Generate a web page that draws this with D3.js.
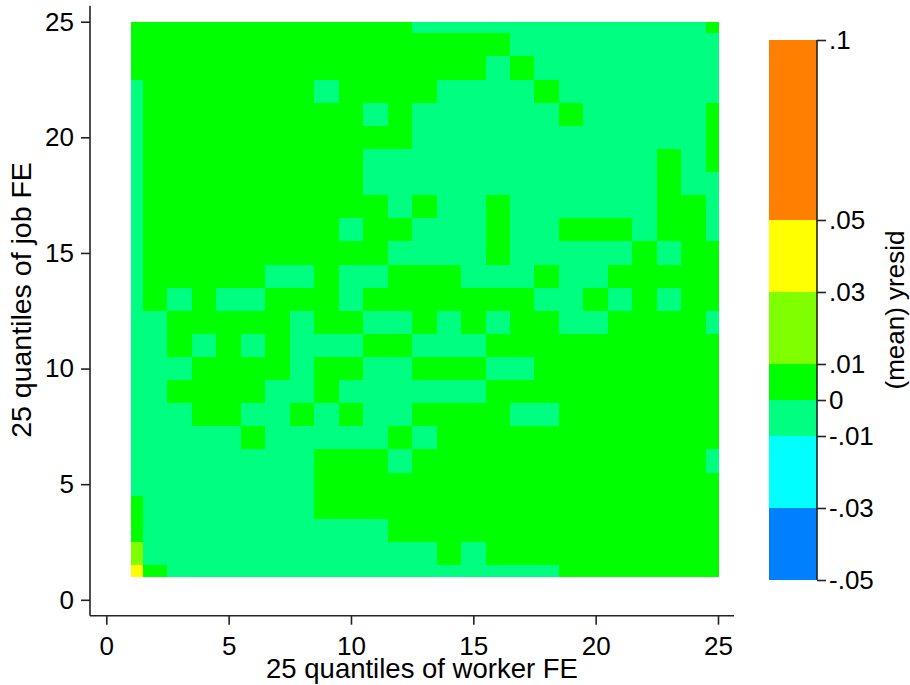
<!DOCTYPE html>
<html><head><meta charset="utf-8">
<script src="https://cdn.jsdelivr.net/npm/d3@7"></script>
<style>
body{margin:0;background:#fff}
text{font-family:"Liberation Sans",Arial,Helvetica,sans-serif;fill:#000}
</style>
</head><body>
<svg id="chart" width="910" height="685"></svg>
<script>
// ---- data ----
const xTicks = [0, 5, 10, 15, 20, 25];
const yTicks = [0, 5, 10, 15, 20, 25];
const xTitle = "25 quantiles of worker FE";
const yTitle = "25 quantiles of job FE";
const legendTitle = "(mean) yresid";
const legendBreaks = [-0.05, -0.03, -0.01, 0, 0.01, 0.03, 0.05, 0.1];
const legendLabels = ["-.05", "-.03", "-.01", "0", ".01", ".03", ".05", ".1"];
const legendColors = ["#0080FF", "#00FFFF", "#00FF80", "#00FF00", "#80FF00", "#FFFF00", "#FF8000"];
// estimated mean residual per colour class
const classValues = {M: -0.005, G: 0.005, C: 0.02, Y: 0.04};
// job-FE quantile rows 25 (top) .. 1 (bottom); run-length coded over worker-FE quantiles 1..25
const gridRows = [
  "12G 12M 1G",
  "16G 9M",
  "15G 1M 1G 8M",
  "1M 7G 1M 4G 4M 1G 7M",
  "1M 9G 1M 1G 6M 1G 5M 1G",
  "1M 11G 12M 1G",
  "1M 9G 12M 1G 1M 1G",
  "1M 9G 12M 1G 2M",
  "1M 10G 1M 1G 2M 1G 6M 2G 1M",
  "1M 8G 1M 2G 3M 1G 2M 3G 1M 2G 1M",
  "1M 10G 4M 1G 5M 1G 1M 2G",
  "1M 5G 2M 1G 2M 3G 3M 1G 2M 5G",
  "1M 1G 1M 1G 2M 3G 1M 7G 2M 1G 1M 1G 1M 2G",
  "2M 5G 1M 2G 2M 1G 1M 1G 1M 2G 2M 4G 1M",
  "2M 1G 1M 1G 1M 1G 3M 2G 3M 10G",
  "3M 4G 1M 2G 2M 3G 2M 8G",
  "2M 4G 2M 1G 6M 10G",
  "3M 2G 2M 1G 1M 1G 2M 4G 2M 7G",
  "5M 1G 5M 1G 1M 12G",
  "8M 3G 1M 12G 1M",
  "8M 17G",
  "1G 7M 17G",
  "1G 10M 14G",
  "1C 12M 1G 1M 10G",
  "1Y 1G 16M 7G"
];

// ---- build cells ----
const cells = [];
gridRows.forEach((row, i) => {
  const r = 25 - i;
  let c = 1;
  row.split(" ").forEach(tok => {
    const n = +tok.slice(0, -1), k = tok.slice(-1);
    for (let j = 0; j < n; j++) { cells.push({col: c, row: r, value: classValues[k]}); c++; }
  });
});

const svg = d3.select("#chart");
const x = d3.scaleLinear().domain([0, 25]).range([106.3, 718]);
const y = d3.scaleLinear().domain([0, 25]).range([599.8, 21.7]);
const color = d3.scaleThreshold().domain(legendBreaks.slice(1, -1)).range(legendColors);
const clip = v => Math.max(1, Math.min(25, v));

svg.append("g").attr("shape-rendering", "crispEdges")
  .selectAll("rect").data(cells).join("rect")
  .attr("x", d => x(clip(d.col - 0.5)))
  .attr("width", d => x(clip(d.col + 0.5)) - x(clip(d.col - 0.5)) + 0.5)
  .attr("y", d => y(clip(d.row + 0.5)))
  .attr("height", d => y(clip(d.row - 0.5)) - y(clip(d.row + 0.5)) + 0.5)
  .attr("fill", d => color(d.value));

const axisColor = "#222";
const fs = 26;

// x axis
const gx = svg.append("g").attr("transform", "translate(0,615.7)")
  .call(d3.axisBottom(x).tickValues(xTicks).tickSize(9).tickPadding(12).tickFormat(d3.format("d")));
gx.select(".domain").remove();
gx.append("line").attr("x1", x.range()[0] - 16.3).attr("x2", x.range()[1] + 16).attr("stroke", axisColor).attr("stroke-width", 1.6);
gx.selectAll(".tick line").attr("stroke", axisColor).attr("stroke-width", 1.6);
gx.selectAll(".tick text").attr("font-size", fs).attr("font-family", null).style("fill", "#000");

// y axis
const gy = svg.append("g").attr("transform", "translate(90,0)")
  .call(d3.axisLeft(y).tickValues(yTicks).tickSize(9).tickPadding(7).tickFormat(d3.format("d")));
gy.select(".domain").remove();
gy.append("line").attr("y1", y.range()[1] - 15.9).attr("y2", y.range()[0] + 15.9).attr("stroke", axisColor).attr("stroke-width", 1.6);
gy.selectAll(".tick line").attr("stroke", axisColor).attr("stroke-width", 1.6);
gy.selectAll(".tick text").attr("font-size", fs).attr("font-family", null).style("fill", "#000");

// titles
svg.append("text").attr("x", 422).attr("y", 678).attr("text-anchor", "middle").attr("font-size", 27.5).text(xTitle);
svg.append("text").attr("transform", "translate(31,300) rotate(-90)").attr("text-anchor", "middle").attr("font-size", 28.5).text(yTitle);

// legend
const ly = d3.scaleLinear().domain([-0.05, 0.1]).range([580, 40]);
const lx0 = 769, lx1 = 817;
const segs = legendColors.map((c, i) => ({lo: legendBreaks[i], hi: legendBreaks[i + 1], c}));
svg.append("g").attr("shape-rendering", "crispEdges").selectAll("rect").data(segs).join("rect")
  .attr("x", lx0).attr("width", lx1 - lx0)
  .attr("y", d => ly(d.hi)).attr("height", d => ly(d.lo) - ly(d.hi))
  .attr("fill", d => d.c);
const gl = svg.append("g").attr("transform", `translate(${lx1},0)`)
  .call(d3.axisRight(ly).tickValues(legendBreaks).tickSize(9).tickPadding(3).tickFormat((d, i) => legendLabels[i]));
gl.select(".domain").remove();
gl.append("line").attr("y1", ly(0.1)).attr("y2", ly(-0.05)).attr("stroke", axisColor).attr("stroke-width", 1.6);
gl.selectAll(".tick line").attr("stroke", axisColor).attr("stroke-width", 1.6);
gl.selectAll(".tick text").attr("font-size", fs).attr("font-family", null).style("fill", "#000");
svg.append("text").attr("transform", "translate(904,310) rotate(-90)").attr("text-anchor", "middle").attr("font-size", 26).text(legendTitle);
</script>
</body></html>
